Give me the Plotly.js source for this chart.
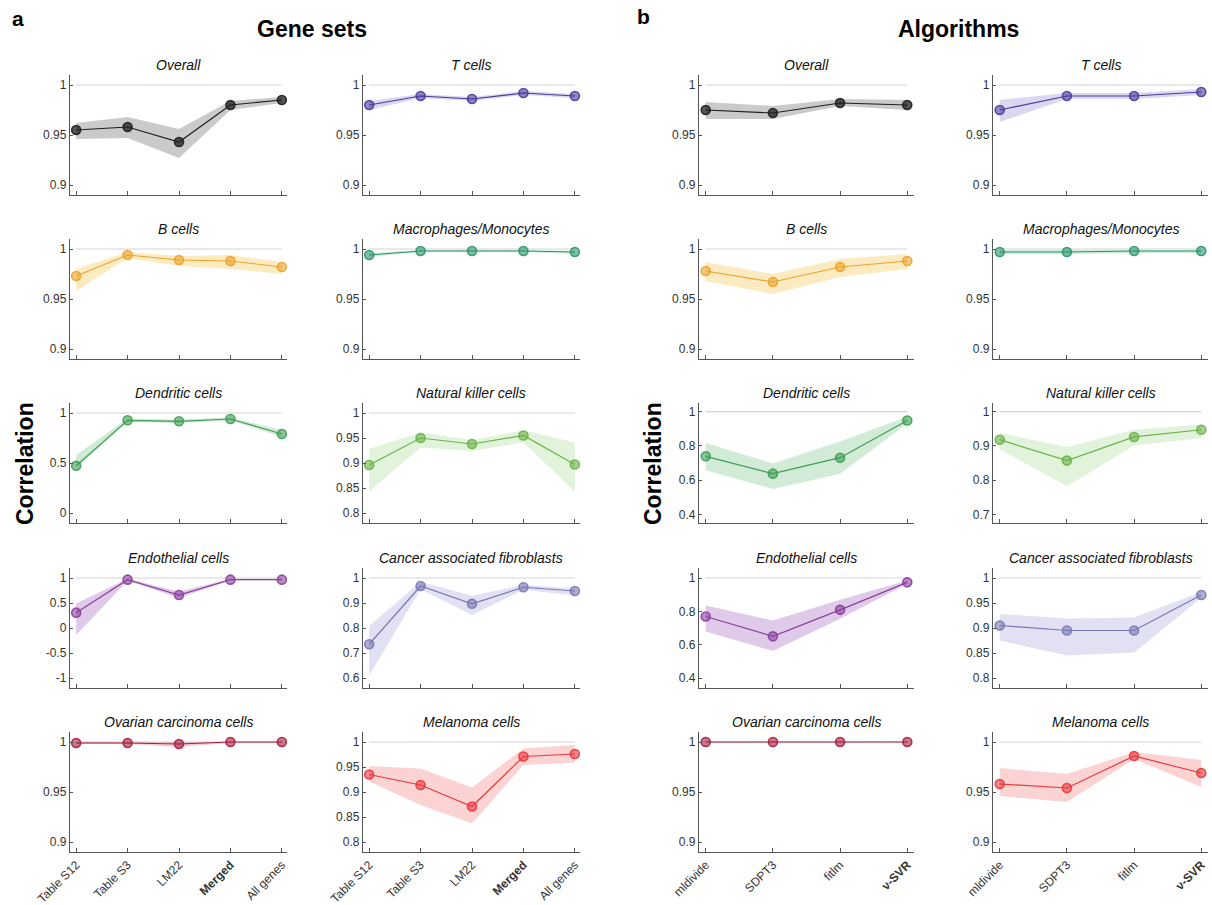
<!DOCTYPE html>
<html>
<head>
<meta charset="utf-8">
<script src="https://cdn.plot.ly/plotly-3.0.1.min.js"></script>
<style>html,body{margin:0;padding:0;background:#fff;}#chart{width:1212px;height:905px;}</style>
</head>
<body>
<div id="chart"></div>
<script>
// ---------- categories ----------
const geneSetLabels = ['Table S12', 'Table S3', 'LM22', 'Merged', 'All genes'];
const algoLabels = ['mldivide', 'SDPT3', 'fitlm', 'ν-SVR'];
const boldLabels = ['Merged', 'ν-SVR'];

const cellTypes = ['Overall', 'T cells', 'B cells', 'Macrophages/Monocytes', 'Dendritic cells',
  'Natural killer cells', 'Endothelial cells', 'Cancer associated fibroblasts',
  'Ovarian carcinoma cells', 'Melanoma cells'];

// ---------- (a) gene sets: mean, lower, upper ----------
const gsOverall = [0.955, 0.958, 0.943, 0.980, 0.985];
const gsOverallLo = [0.946, 0.947, 0.927, 0.975, 0.982];
const gsOverallHi = [0.962, 0.968, 0.956, 0.984, 0.988];

const gsT = [0.980, 0.989, 0.986, 0.992, 0.989];
const gsTLo = [0.975, 0.987, 0.984, 0.990, 0.987];
const gsTHi = [0.984, 0.991, 0.988, 0.994, 0.991];

const gsB = [0.973, 0.994, 0.989, 0.988, 0.982];
const gsBLo = [0.958, 0.991, 0.983, 0.980, 0.975];
const gsBHi = [0.980, 0.997, 0.993, 0.994, 0.987];

const gsMac = [0.994, 0.998, 0.998, 0.998, 0.997];
const gsMacLo = [0.992, 0.997, 0.997, 0.997, 0.995];
const gsMacHi = [0.996, 0.999, 0.999, 0.999, 0.998];

const gsDC = [0.473, 0.927, 0.917, 0.940, 0.790];
const gsDCLo = [0.45, 0.91, 0.90, 0.925, 0.76];
const gsDCHi = [0.58, 0.945, 0.935, 0.955, 0.83];

const gsNK = [0.896, 0.950, 0.938, 0.955, 0.897];
const gsNKLo = [0.843, 0.931, 0.924, 0.941, 0.843];
const gsNKHi = [0.928, 0.961, 0.946, 0.965, 0.941];

const gsEndo = [0.307, 0.967, 0.660, 0.967, 0.967];
const gsEndoLo = [-0.14, 0.945, 0.60, 0.955, 0.955];
const gsEndoHi = [0.49, 0.985, 0.73, 0.98, 0.98];

const gsCAF = [0.735, 0.968, 0.897, 0.963, 0.948];
const gsCAFLo = [0.61, 0.955, 0.852, 0.953, 0.930];
const gsCAFHi = [0.808, 0.985, 0.929, 0.972, 0.958];

const gsOva = [0.999, 0.999, 0.998, 1.0, 1.0];
const gsOvaLo = [0.998, 0.998, 0.995, 0.999, 0.999];
const gsOvaHi = [1.0, 1.0, 1.0, 1.0, 1.0];

const gsMel = [0.935, 0.914, 0.871, 0.971, 0.976];
const gsMelLo = [0.921, 0.874, 0.837, 0.954, 0.959];
const gsMelHi = [0.952, 0.947, 0.909, 0.987, 0.994];

// ---------- (b) algorithms: mean, lower, upper ----------
const alOverall = [0.975, 0.972, 0.982, 0.980];
const alOverallLo = [0.966, 0.966, 0.979, 0.975];
const alOverallHi = [0.983, 0.979, 0.986, 0.985];

const alT = [0.975, 0.989, 0.989, 0.993];
const alTLo = [0.963, 0.986, 0.986, 0.990];
const alTHi = [0.985, 0.992, 0.992, 0.996];

const alB = [0.978, 0.967, 0.982, 0.988];
const alBLo = [0.968, 0.955, 0.972, 0.980];
const alBHi = [0.987, 0.975, 0.990, 0.995];

const alMac = [0.997, 0.997, 0.998, 0.998];
const alMacLo = [0.995, 0.995, 0.996, 0.996];
const alMacHi = [0.999, 0.999, 0.999, 0.999];

const alDC = [0.739, 0.638, 0.731, 0.948];
const alDCLo = [0.658, 0.549, 0.638, 0.93];
const alDCHi = [0.816, 0.697, 0.826, 0.97];

const alNK = [0.918, 0.857, 0.926, 0.947];
const alNKLo = [0.890, 0.782, 0.901, 0.923];
const alNKHi = [0.938, 0.896, 0.947, 0.962];

const alEndo = [0.769, 0.650, 0.809, 0.974];
const alEndoLo = [0.679, 0.562, 0.755, 0.965];
const alEndoHi = [0.835, 0.745, 0.869, 0.985];

const alCAF = [0.905, 0.895, 0.895, 0.966];
const alCAFLo = [0.875, 0.845, 0.851, 0.960];
const alCAFHi = [0.928, 0.919, 0.921, 0.972];

const alOva = [1.0, 1.0, 1.0, 1.0];
const alOvaLo = [0.9993, 0.9993, 0.9993, 0.9993];
const alOvaHi = [1.0, 1.0, 1.0, 1.0];

const alMel = [0.958, 0.954, 0.986, 0.969];
const alMelLo = [0.946, 0.940, 0.983, 0.955];
const alMelHi = [0.974, 0.968, 0.990, 0.982];

// ---------- y tick values per panel ----------
const ticksTop = [0.9, 0.95, 1];
const ticksDCa = [0, 0.5, 1];
const ticksNKa = [0.8, 0.85, 0.9, 0.95, 1];
const ticksDCb = [0.4, 0.6, 0.8, 1];
const ticksNKb = [0.7, 0.8, 0.9, 1];
const ticksEndoA = [-1, -0.5, 0, 0.5, 1];
const ticksCAFa = [0.6, 0.7, 0.8, 0.9, 1];
const ticksEndoB = [0.4, 0.6, 0.8, 1];
const ticksCAFb = [0.8, 0.85, 0.9, 0.95, 1];
const ticksMelA = [0.8, 0.85, 0.9, 0.95, 1];

// ---------- styling ----------
const W = 1212, H = 905;
const FONT = 'Liberation Sans, Arial, Helvetica, sans-serif';
const colPx = [[70, 287], [363, 580], [699, 914], [993, 1208]];
const rowPx = [[75, 195], [239, 359], [403, 523], [568, 688], [732, 852]];
const colors = ['#1e1e1e', '#4a3a9c', '#eba32d', '#2c946c', '#3f9e55',
  '#6cb24a', '#8b3f9e', '#7a78b2', '#a52040', '#e8393e'];
const bandColors = ['rgba(150,150,150,0.5)', 'rgba(150,140,215,0.35)', 'rgba(248,205,100,0.40)',
  'rgba(120,200,160,0.35)', 'rgba(140,205,155,0.40)', 'rgba(170,220,150,0.35)',
  'rgba(175,125,200,0.40)', 'rgba(170,170,220,0.35)', 'rgba(225,130,150,0.40)',
  'rgba(245,140,140,0.38)'];

// panel specs: [row, col, mean, lo, hi, cellTypeIdx, yrange, ticks]
const panels = [
  [0, 0, gsOverall, gsOverallLo, gsOverallHi, 0, [0.89, 1.01], ticksTop],
  [0, 1, gsT, gsTLo, gsTHi, 1, [0.89, 1.01], ticksTop],
  [1, 0, gsB, gsBLo, gsBHi, 2, [0.89, 1.01], ticksTop],
  [1, 1, gsMac, gsMacLo, gsMacHi, 3, [0.89, 1.01], ticksTop],
  [2, 0, gsDC, gsDCLo, gsDCHi, 4, [-0.1, 1.1], ticksDCa],
  [2, 1, gsNK, gsNKLo, gsNKHi, 5, [0.78, 1.02], ticksNKa],
  [3, 0, gsEndo, gsEndoLo, gsEndoHi, 6, [-1.2, 1.2], ticksEndoA],
  [3, 1, gsCAF, gsCAFLo, gsCAFHi, 7, [0.56, 1.04], ticksCAFa],
  [4, 0, gsOva, gsOvaLo, gsOvaHi, 8, [0.89, 1.01], ticksTop],
  [4, 1, gsMel, gsMelLo, gsMelHi, 9, [0.78, 1.02], ticksMelA],
  [0, 2, alOverall, alOverallLo, alOverallHi, 0, [0.89, 1.01], ticksTop],
  [0, 3, alT, alTLo, alTHi, 1, [0.89, 1.01], ticksTop],
  [1, 2, alB, alBLo, alBHi, 2, [0.89, 1.01], ticksTop],
  [1, 3, alMac, alMacLo, alMacHi, 3, [0.89, 1.01], ticksTop],
  [2, 2, alDC, alDCLo, alDCHi, 4, [0.35, 1.05], ticksDCb],
  [2, 3, alNK, alNKLo, alNKHi, 5, [0.675, 1.025], ticksNKb],
  [3, 2, alEndo, alEndoLo, alEndoHi, 6, [0.34, 1.06], ticksEndoB],
  [3, 3, alCAF, alCAFLo, alCAFHi, 7, [0.78, 1.02], ticksCAFb],
  [4, 2, alOva, alOvaLo, alOvaHi, 8, [0.89, 1.01], ticksTop],
  [4, 3, alMel, alMelLo, alMelHi, 9, [0.89, 1.01], ticksTop]
];

function hexToRgba(hex, a) {
  const n = parseInt(hex.slice(1), 16);
  return 'rgba(' + ((n >> 16) & 255) + ',' + ((n >> 8) & 255) + ',' + (n & 255) + ',' + a + ')';
}
function fmt(lbl) { return boldLabels.includes(lbl) ? '<b>' + lbl + '</b>' : lbl; }

const traces = [];
const layout = {
  width: W, height: H,
  margin: { l: 0, r: 0, t: 0, b: 0 },
  paper_bgcolor: '#ffffff', plot_bgcolor: 'rgba(0,0,0,0)',
  showlegend: false,
  font: { family: FONT, size: 12, color: '#333' },
  annotations: []
};

panels.forEach((p, i) => {
  const [row, col, mean, lo, hi, ct, yr, ticks] = p;
  const k = i + 1;
  const xa = 'x' + (k === 1 ? '' : k), ya = 'y' + (k === 1 ? '' : k);
  const labels = col < 2 ? geneSetLabels : algoLabels;
  const n = labels.length;
  const xs = labels.map((_, j) => j);
  const c = colors[ct];

  // reference line at 1
  traces.push({ x: [xs[0], xs[n - 1]], y: [1, 1], xaxis: xa, yaxis: ya, mode: 'lines',
    line: { color: '#d3d3d3', width: 1.2 }, hoverinfo: 'skip' });
  // band
  traces.push({ x: xs.concat(xs.slice().reverse()), y: hi.concat(lo.slice().reverse()),
    xaxis: xa, yaxis: ya, mode: 'lines', fill: 'toself', fillcolor: bandColors[ct],
    line: { width: 0, color: 'rgba(0,0,0,0)' }, hoverinfo: 'skip' });
  // mean line + markers
  traces.push({ x: xs, y: mean, xaxis: xa, yaxis: ya, mode: 'lines+markers',
    line: { color: c, width: 1.2 },
    marker: { size: 9, color: hexToRgba(c, ct === 0 ? 0.75 : 0.6), line: { color: hexToRgba(c, 0.9), width: 1.6 } } });

  const xr = col < 2 ? [-0.12, 4.1] : [-0.1, 3.1];
  const xKey = 'xaxis' + (k === 1 ? '' : k), yKey = 'yaxis' + (k === 1 ? '' : k);
  layout[xKey] = {
    domain: [colPx[col][0] / W, colPx[col][1] / W], range: xr, anchor: ya,
    showgrid: false, zeroline: false, showline: true, linecolor: '#555', linewidth: 1.2,
    ticks: 'inside', ticklen: 4, tickcolor: '#555', tickwidth: 1,
    tickmode: 'array', tickvals: xs, ticktext: labels.map(fmt),
    showticklabels: row === 4, tickangle: -45,
    tickfont: { family: FONT, size: 12, color: '#333' }, fixedrange: true
  };
  layout[yKey] = {
    domain: [1 - rowPx[row][1] / H, 1 - rowPx[row][0] / H], range: yr, anchor: xa,
    showgrid: false, zeroline: false, showline: true, linecolor: '#555', linewidth: 1.2,
    ticks: 'inside', ticklen: 3, tickcolor: '#555', tickwidth: 1,
    tickmode: 'array', tickvals: ticks, ticktext: ticks.map(v => String(v)),
    tickfont: { family: FONT, size: 12, color: '#333' }, fixedrange: true
  };
  // panel title
  layout.annotations.push({
    xref: 'paper', yref: 'paper',
    x: (colPx[col][0] + colPx[col][1]) / 2 / W, y: 1 - (rowPx[row][0] - 10) / H,
    xanchor: 'center', yanchor: 'middle', showarrow: false,
    text: '<i>' + cellTypes[ct] + '</i>', font: { family: FONT, size: 14, color: '#111' }
  });
});

function ann(px, py, text, size, extra) {
  layout.annotations.push(Object.assign({
    xref: 'paper', yref: 'paper', x: px / W, y: 1 - py / H,
    xanchor: 'center', yanchor: 'middle', showarrow: false, text: text,
    font: { family: FONT, size: size, color: '#000' }
  }, extra || {}));
}
ann(18, 18, '<b>a</b>', 21);
ann(643, 17, '<b>b</b>', 21);
ann(312, 29, '<b>Gene sets</b>', 23);
ann(958, 29, '<b>Algorithms</b>', 23);
ann(25, 464, '<b>Correlation</b>', 23, { textangle: -90 });
ann(653, 464, '<b>Correlation</b>', 23, { textangle: -90 });

Plotly.newPlot('chart', traces, layout, { staticPlot: true, displayModeBar: false });
</script>
</body>
</html>
